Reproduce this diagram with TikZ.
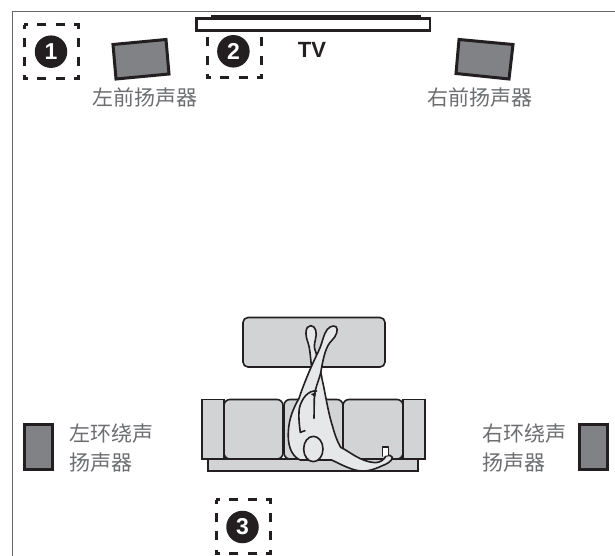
\documentclass[tikz,border=0pt]{standalone}
\usepackage{fontspec}
\setmainfont{Liberation Sans}
\newfontfamily\cjk{Noto Sans CJK SC}
\definecolor{sofa}{HTML}{D1D3D4}
\definecolor{skin}{HTML}{E6E7E8}
\definecolor{spk}{HTML}{808285}
\definecolor{lab}{HTML}{6D6E71}
\definecolor{ink}{HTML}{231F20}
\tikzset{
  frameline/.style={draw=black!60,line width=1.8pt},
  seat/.style={draw=ink,fill=sofa,line width=1.6pt,rounded corners=3.5pt},
  spkbox/.style={draw=ink,fill=spk,line width=3pt},
  zone/.style={draw=ink,line width=3pt,dash pattern=on 8pt off 9.33pt on 9pt off 9.33pt on 9pt off 9.33pt,dash phase=4pt},
  badge/.style={circle,fill=ink,text=white,inner sep=0pt,minimum size=32.5pt,font=\bfseries\fontsize{23}{23}\selectfont},
  cnlabel/.style={text=lab,inner sep=0pt,font=\cjk\fontsize{21}{21}\selectfont,anchor=west},
  bodyline/.style={draw=ink,line width=1.6pt,line join=round,line cap=round},
}
\begin{document}
\begin{tikzpicture}[x=1pt,y=-1pt]
\useasboundingbox (0,0) rectangle (615,556);
\fill[white] (0,0) rectangle (615,556);
\draw[frameline] (12.5,556) -- (12.5,11.5) -- (615,11.5);
% zones
\draw[zone] (24,25) -- (78,25) -- (78,79) -- (24,79) -- (24,25);
\draw[zone] (207,24) -- (207,78) -- (261,78) -- (261,24);
\draw[zone] (216,499.7) -- (270,499.7) -- (270,553.7) -- (216,553.7) -- (216,499.7);
\node[badge] (b1) at (51,51.7) {1};
\node[badge] (b2) at (233.4,51.3) {2};
\node[badge] (b3) at (242.5,527) {3};
% TV
\draw[draw=ink,fill=white,line width=2.4pt] (196.5,18.5) rectangle (430,30.5);
\fill[ink] (211,15.5) rectangle (421,18.5);
\node[inner sep=0pt,text=ink,font=\bfseries\fontsize{22}{22}\selectfont] (tv) at (312,50) {TV};
% speakers
\draw[spkbox] (113,44.5) -- (166,39.5) -- (169,74) -- (116,79) -- cycle;
\draw[spkbox] (459,39.5) -- (513,44.5) -- (509,79) -- (456,73.5) -- cycle;
\draw[spkbox] (24,424) rectangle (52,469);
\draw[spkbox] (579.5,424) rectangle (607.5,469);
% labels
\node[cnlabel] (lf) at (92,98) {左前扬声器};
\node[cnlabel] (rf) at (427,98) {右前扬声器};
\node[cnlabel] (ls1) at (69,434) {左环绕声};
\node[cnlabel] (ls2) at (69,463) {扬声器};
\node[cnlabel] (rs1) at (482,434) {右环绕声};
\node[cnlabel] (rs2) at (482,463) {扬声器};
% ottoman and sofa
\draw[seat,rounded corners=5pt] (243,317.5) rectangle (385,367);
\draw[seat,rounded corners=0pt] (208,459) rectangle (418,471);
\draw[seat,rounded corners=0pt] (202,399.5) rectangle (224,459);
\draw[seat,rounded corners=0pt] (403,399.5) rectangle (425,459);
\draw[seat,rounded corners=6pt] (224,399.5) rectangle (283,459);
\draw[seat,rounded corners=6pt] (284,399.5) rectangle (343,459);
\draw[seat,rounded corners=6pt] (343,399.5) rectangle (403,459);
% person (coordinates in 3x zoom of the reference)
\begin{scope}[shift={(190,310)},x=0.3333pt,y=-0.3333pt]
  \draw[bodyline,fill=skin] (364,165) .. controls (360,130) and (360,115) .. (354,98)
    .. controls (345,75) and (345,48) .. (362,47)
    .. controls (378,47) and (382,70) .. (376,90)
    .. controls (372,105) and (372,115) .. (378,128) -- (395,200) -- cycle;
  \draw[bodyline,fill=skin] (330,450)
    .. controls (300,435) and (293,400) .. (295,365)
    .. controls (297,325) and (310,295) .. (327,265)
    .. controls (340,225) and (365,165) .. (385,125)
    .. controls (395,105) and (398,85) .. (405,70)
    .. controls (412,52) and (428,44) .. (438,50)
    .. controls (446,58) and (440,78) .. (425,92)
    .. controls (408,108) and (400,140) .. (392,190)
    .. controls (405,240) and (412,300) .. (428,350)
    .. controls (436,380) and (445,400) .. (452,412)
    .. controls (480,425) and (510,455) .. (555,458)
    .. controls (570,458) and (582,450) .. (588,438)
    .. controls (598,436) and (605,434) .. (607,442)
    .. controls (606,455) and (590,462) .. (575,468)
    .. controls (550,480) and (525,486) .. (505,482)
    .. controls (480,478) and (450,462) .. (425,450)
    -- cycle;
  \draw[bodyline] (392,190) .. controls (385,215) and (375,235) .. (373,260) -- (372,325);
  \draw[bodyline] (380,243) .. controls (355,240) and (335,265) .. (328,295)
    .. controls (325,320) and (328,345) .. (331,367) -- (345,362);
  \fill[ink] (362,252) -- (378,248) -- (376,262) -- cycle;
  \draw[bodyline,fill=skin] (370,417) ellipse [x radius=29,y radius=38];
  \draw[bodyline,fill=white] (577,438) -- (577,411) -- (596,411) -- (596,436);
\end{scope}
\end{tikzpicture}
\end{document}
